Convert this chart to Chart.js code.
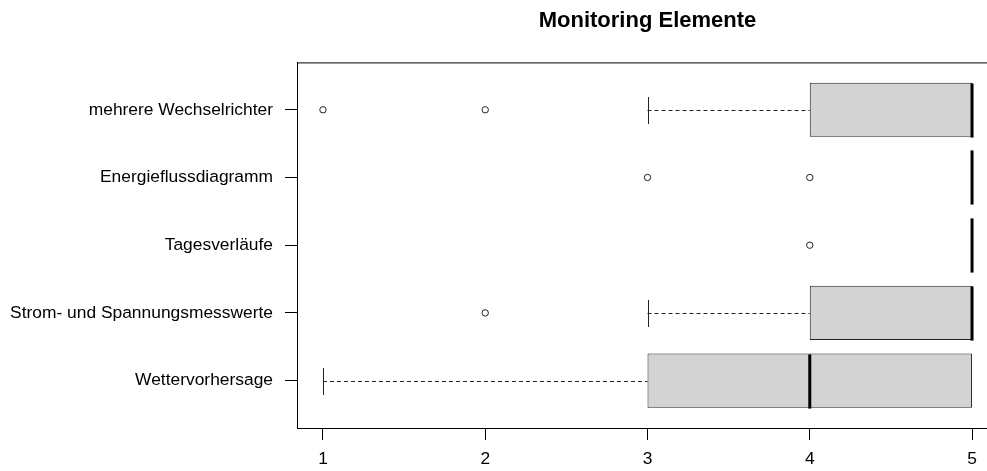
<!DOCTYPE html>
<html>
<head>
<meta charset="utf-8">
<script src="https://cdn.jsdelivr.net/npm/chart.js@4"></script>
<style>
  html, body { margin: 0; padding: 0; background: #fff; overflow: hidden; }
  #wrap { width: 1010px; height: 471px; }
</style>
</head>
<body>
<div id="wrap"><canvas id="box"></canvas></div>
<script>
// groups, bottom to top (like R's horizontal boxplot)
const groups = ['Wettervorhersage', 'Strom- und Spannungsmesswerte', 'Tagesverläufe', 'Energieflussdiagramm', 'mehrere Wechselrichter'];
const lowerWhisker = [1, 3, 5, 5, 3];
const q1 = [3, 4, 5, 5, 4];
const median = [4, 5, 5, 5, 5];
const q3 = [5, 5, 5, 5, 5];
const upperWhisker = [5, 5, 5, 5, 5];
const outliers = [[], [2], [4], [3, 4], [1, 2]];
const xTicks = [1, 2, 3, 4, 5];

const BOXWEX = 0.8;
const font = { family: '"Liberation Sans", Arial, sans-serif', size: 17.4 };

const boxData = groups.map((g, i) => ({ y: i + 1, x: [q1[i], q3[i]] }));
const outlierData = [];
outliers.forEach((arr, i) => arr.forEach(v => outlierData.push({ x: v, y: i + 1 })));

// whiskers, staples, medians and the plot frame
const boxExtras = {
  id: 'boxExtras',
  afterDatasetsDraw(chart) {
    const ctx = chart.ctx;
    const xs = chart.scales.x, ys = chart.scales.y;
    const area = chart.chartArea;
    ctx.save();
    ctx.strokeStyle = '#222';
    groups.forEach((g, i) => {
      const y = Math.round(ys.getPixelForValue(i + 1)) + 0.5;
      const halfBox = Math.abs(ys.getPixelForValue(i + 1 + BOXWEX / 2) - ys.getPixelForValue(i + 1));
      const halfStaple = halfBox / 2;
      // dashed whiskers
      ctx.setLineDash([4, 3]);
      ctx.lineWidth = 1;
      if (lowerWhisker[i] < q1[i]) {
        ctx.beginPath();
        ctx.moveTo(xs.getPixelForValue(lowerWhisker[i]), y);
        ctx.lineTo(xs.getPixelForValue(q1[i]), y);
        ctx.stroke();
      }
      if (upperWhisker[i] > q3[i]) {
        ctx.beginPath();
        ctx.moveTo(xs.getPixelForValue(q3[i]), y);
        ctx.lineTo(xs.getPixelForValue(upperWhisker[i]), y);
        ctx.stroke();
      }
      ctx.setLineDash([]);
      // staples
      [lowerWhisker[i], upperWhisker[i]].forEach((v, k) => {
        if ((k === 0 && v < q1[i]) || (k === 1 && v > q3[i])) {
          const px = Math.round(xs.getPixelForValue(v)) + 0.5;
          ctx.beginPath();
          ctx.moveTo(px, y - halfStaple);
          ctx.lineTo(px, y + halfStaple);
          ctx.stroke();
        }
      });
      // median
      ctx.lineWidth = 3;
      ctx.strokeStyle = '#000';
      const mx = xs.getPixelForValue(median[i]);
      ctx.beginPath();
      ctx.moveTo(mx, y - halfBox);
      ctx.lineTo(mx, y + halfBox);
      ctx.stroke();
      ctx.strokeStyle = '#222';
    });
    // box around the plot
    ctx.lineWidth = 1;
    ctx.strokeStyle = '#000';
    ctx.strokeRect(area.left + 0.5, area.top + 0.5, area.right - area.left, area.bottom - area.top);
    ctx.restore();
  }
};

new Chart(document.getElementById('box'), {
  data: {
    datasets: [{
      type: 'bar',
      label: 'box',
      data: boxData,
      backgroundColor: '#d3d3d3',
      borderColor: '#222222',
      borderWidth: 1,
      borderSkipped: false,
      categoryPercentage: 1,
      barPercentage: BOXWEX,
      order: 2
    }, {
      type: 'scatter',
      label: 'outliers',
      data: outlierData,
      pointStyle: 'circle',
      pointRadius: 3.2,
      pointBackgroundColor: '#ffffff',
      pointBorderColor: '#222222',
      pointBorderWidth: 1,
      order: 1
    }]
  },
  options: {
    indexAxis: 'y',
    responsive: true,
    maintainAspectRatio: false,
    animation: false,
    layout: { padding: { left: 0, right: 12, top: 0, bottom: 0 } },
    plugins: {
      legend: { display: false },
      tooltip: { enabled: false },
      title: {
        display: true,
        text: 'Monitoring Elemente',
        fullSize: false,
        color: '#000',
        font: { family: font.family, size: 22, weight: 'bold' },
        padding: { top: 8, bottom: 28 }
      }
    },
    scales: {
      x: {
        type: 'linear',
        min: 0.84,
        max: 5.16,
        afterBuildTicks: (scale) => { scale.ticks = xTicks.map(v => ({ value: v })); },
        ticks: { color: '#000', font: font, padding: 9 },
        grid: { drawOnChartArea: false, tickLength: 12, color: '#000' },
        border: { color: '#000' },
        afterFit: (scale) => { scale.height = 43; }
      },
      y: {
        type: 'linear',
        min: 0.3,
        max: 5.7,
        offset: false,
        afterBuildTicks: (scale) => { scale.ticks = groups.map((g, i) => ({ value: i + 1 })); },
        ticks: { color: '#000', font: font, padding: 12, callback: (v) => groups[v - 1] },
        grid: { drawOnChartArea: false, offset: false, tickLength: 12, color: '#000' },
        border: { color: '#000' },
        afterFit: (scale) => { scale.width = 297; }
      }
    }
  },
  plugins: [boxExtras]
});
</script>
</body>
</html>
